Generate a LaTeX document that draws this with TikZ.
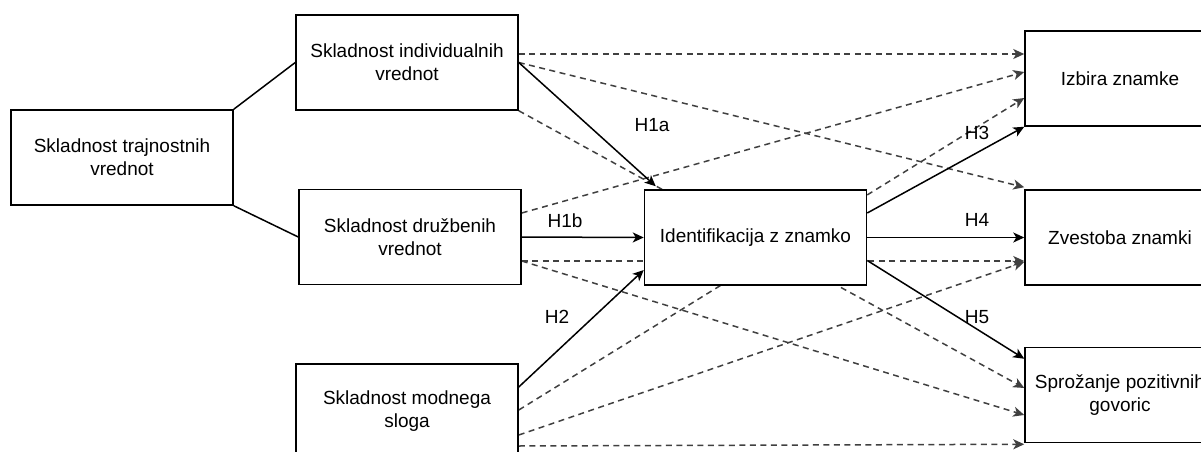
\documentclass[tikz,border=0pt]{standalone}
\usepackage{fontspec}
\setmainfont{Liberation Sans}
\usetikzlibrary{arrows.meta,calc,positioning}
\pgfdeclarelayer{bg}
\pgfsetlayers{bg,main}

\tikzset{
  konstrukt/.style={draw=black, line width=1.5pt, fill=white, minimum width=222pt,
    minimum height=95pt, inner sep=0pt, align=center, font=\fontsize{19}{23}\selectfont},
  izid/.style={konstrukt, minimum width=190pt},
  hipo/.style={inner sep=0pt, font=\fontsize{19}{23}\selectfont},
  vpliv/.style={line width=1.5pt, -{Stealth[length=11pt,width=10pt,inset=3pt]}},
  direkt/.style={vpliv, black!75, dash pattern=on 6pt off 4.5pt},
  vez/.style={line width=1.5pt}
}

\begin{document}
\begin{tikzpicture}[x=1pt, y=-1pt]
    \useasboundingbox (0,0) rectangle (1201,452);
    \clip (0,0) rectangle (1201,452);

    % konstrukti
    \node[konstrukt] (traj) at (122,157.5) {Skladnost trajnostnih\\vrednot};
    \node[konstrukt] (indiv) at (407,62.5) {Skladnost individualnih\\vrednot};
    \node[konstrukt] (druzb) at (410,237) {Skladnost družbenih\\vrednot};
    \node[konstrukt] (moda) at (407,411.5) {Skladnost modnega\\sloga};
    \node[konstrukt] (ident) at (755.5,237.5) {Identifikacija z znamko};

    % izidi (desno, odrezani)
    \node[izid] (izbira) at (1120,78.5) {Izbira znamke};
    \node[izid] (zvest) at (1120,237.5) {Zvestoba znamki};
    \node[izid] (govor) at (1120,395) {Sprožanje pozitivnih\\govoric};

    % trajnostne vrednote -> dimenziji
    \draw[vez] (traj.north east) -- (indiv.west);
    \draw[vez] (traj.south east) -- (druzb.west);

    % neposredni vplivi (crtkano, pod identifikacijo)
    \begin{pgfonlayer}{bg}
        \draw[direkt] ($(indiv.east)+(0,-8.5)$) -- ($(izbira.west)+(0,-24.5)$);
        \draw[direkt] (indiv.east) -- ($(zvest.north west)+(0,-2)$);
        \draw[direkt] (indiv.south east) -- ($(govor.west)+(0,-7)$);
        \draw[direkt] ($(druzb.east)+(0,-24)$) -- ($(izbira.west)+(0,-6.5)$);
        \draw[direkt] ($(druzb.east)+(0,24)$) -- ($(zvest.west)+(0,23.5)$);
        \draw[direkt] ($(druzb.east)+(0,24)$) -- ($(govor.west)+(0,20)$);
        \draw[direkt] ($(moda.east)+(0,-1.5)$) -- ($(izbira.west)+(0,19.5)$);
        \draw[direkt] ($(moda.east)+(0,23.5)$) -- ($(zvest.west)+(0,24.5)$);
        \draw[direkt] ($(moda.east)+(0,34.5)$) -- ($(govor.south west)+(0,1)$);
    \end{pgfonlayer}

    % hipoteze
    \draw[vpliv] (indiv.east) -- ($(ident.north west)+(12,-3)$);
    \draw[vpliv] (druzb.east) -- (ident.west);
    \draw[vpliv] ($(moda.east)+(0,-24.5)$) -- ($(ident.west)+(0,32.5)$);
    \draw[vpliv] ($(ident.east)+(0,-24.5)$) -- (izbira.south west);
    \draw[vpliv] (ident.east) -- (zvest.west);
    \draw[vpliv] ($(ident.east)+(0,23)$) -- ($(govor.north west)+(0,12)$);

    \node[hipo] (h1a) at (652,125) {H1a};
    \node[hipo] (h1b) at (565,221) {H1b};
    \node[hipo] (h2) at (557,317) {H2};
    \node[hipo] (h3) at (977,133) {H3};
    \node[hipo] (h4) at (977,220) {H4};
    \node[hipo] (h5) at (977,317) {H5};
\end{tikzpicture}
\end{document}
